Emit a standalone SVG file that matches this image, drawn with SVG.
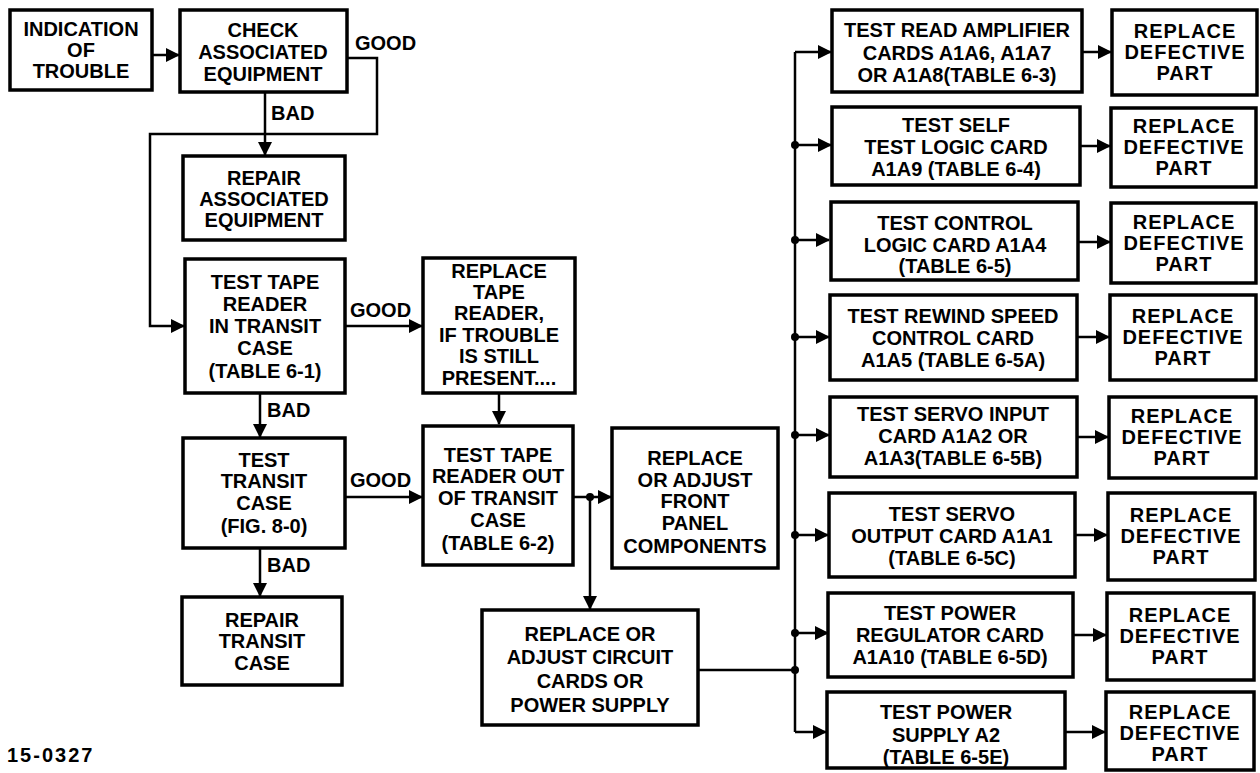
<svg xmlns="http://www.w3.org/2000/svg" width="1260" height="773" viewBox="0 0 1260 773">
<style>
.box{fill:#fff;stroke:#000;stroke-width:3.5}
.t{font-family:"Liberation Sans",Arial,sans-serif;font-weight:bold;font-size:20px;text-anchor:middle;fill:#000}
.lbl{font-family:"Liberation Sans",Arial,sans-serif;font-weight:bold;font-size:20px;fill:#000}
.c{fill:none;stroke:#000;stroke-width:2.5}
.a{marker-end:url(#ah)}
.dot{fill:#000}
</style>
<defs>
<marker id="ah" markerUnits="userSpaceOnUse" markerWidth="14" markerHeight="14" refX="13" refY="7" orient="auto">
<path d="M0,0 L14,7 L0,14 z" fill="#000"/>
</marker>
</defs>
<rect width="1260" height="773" fill="#fff"/>

<g id="connectors">
<path class="c a" d="M152,55 H179"/>
<path class="c a" d="M347,58 H377 V134 H150 V326 H184"/>
<path class="c a" d="M265,92 V155"/>
<path class="c a" d="M345,326 H422"/>
<path class="c a" d="M260,393 V437"/>
<path class="c a" d="M345,497 H422"/>
<path class="c a" d="M260,548 V596"/>
<path class="c a" d="M499,393 V424"/>
<path class="c a" d="M573,497 H611"/>
<path class="c a" d="M590,497 V609"/>
<circle class="dot" cx="590" cy="497" r="4"/>
<path class="c" d="M698,670 H795"/>
<circle class="dot" cx="795" cy="670" r="4"/>
<path class="c a" d="M795,52 H831"/>
<path class="c" d="M795,52 V732"/>
<path class="c a" d="M795,732 H826"/>
<path class="c a" d="M795,145 H831"/>
<path class="c a" d="M795,240 H829"/>
<path class="c a" d="M795,337 H829"/>
<path class="c a" d="M795,435 H829"/>
<path class="c a" d="M795,535 H828"/>
<path class="c a" d="M795,633 H828"/>
<circle class="dot" cx="795" cy="145" r="4"/>
<circle class="dot" cx="795" cy="240" r="4"/>
<circle class="dot" cx="795" cy="337" r="4"/>
<circle class="dot" cx="795" cy="435" r="4"/>
<circle class="dot" cx="795" cy="535" r="4"/>
<circle class="dot" cx="795" cy="633" r="4"/>
<path class="c a" d="M1082,52 H1111"/>
<path class="c a" d="M1080,146 H1110"/>
<path class="c a" d="M1078,242 H1110"/>
<path class="c a" d="M1077,337 H1109"/>
<path class="c a" d="M1077,437 H1108"/>
<path class="c a" d="M1075,535 H1107"/>
<path class="c a" d="M1073,635 H1106"/>
<path class="c a" d="M1065,732 H1105"/>
<text class="lbl" x="355" y="50">GOOD</text>
<text class="lbl" x="271" y="120">BAD</text>
<text class="lbl" x="350" y="317">GOOD</text>
<text class="lbl" x="267" y="417">BAD</text>
<text class="lbl" x="350" y="487">GOOD</text>
<text class="lbl" x="267" y="572">BAD</text>
</g>

<g id="n1"><rect class="box" x="10" y="10" width="142" height="80"/>
<text class="t"><tspan x="81" y="36">INDICATION</tspan><tspan x="81" y="57">OF</tspan><tspan x="81" y="78">TROUBLE</tspan></text></g>
<g id="n2"><rect class="box" x="180" y="10" width="167" height="82"/>
<text class="t"><tspan x="263" y="37">CHECK</tspan><tspan x="263" y="59">ASSOCIATED</tspan><tspan x="263" y="81">EQUIPMENT</tspan></text></g>
<g id="n3"><rect class="box" x="183" y="156" width="162" height="84"/>
<text class="t"><tspan x="264" y="185">REPAIR</tspan><tspan x="264" y="206">ASSOCIATED</tspan><tspan x="264" y="227">EQUIPMENT</tspan></text></g>
<g id="n4"><rect class="box" x="185" y="259" width="160" height="134"/>
<text class="t"><tspan x="265" y="289">TEST TAPE</tspan><tspan x="265" y="311">READER</tspan><tspan x="265" y="333">IN TRANSIT</tspan><tspan x="265" y="355">CASE</tspan><tspan x="265" y="378">(TABLE 6-1)</tspan></text></g>
<g id="n5"><rect class="box" x="183" y="438" width="162" height="110"/>
<text class="t"><tspan x="264" y="467">TEST</tspan><tspan x="264" y="488">TRANSIT</tspan><tspan x="264" y="510">CASE</tspan><tspan x="264" y="533">(FIG. 8-0)</tspan></text></g>
<g id="n6"><rect class="box" x="182" y="597" width="160" height="88"/>
<text class="t"><tspan x="262" y="627">REPAIR</tspan><tspan x="262" y="648">TRANSIT</tspan><tspan x="262" y="670">CASE</tspan></text></g>
<g id="n7"><rect class="box" x="423" y="258" width="152" height="135"/>
<text class="t"><tspan x="499" y="278">REPLACE</tspan><tspan x="499" y="299">TAPE</tspan><tspan x="499" y="320">READER,</tspan><tspan x="499" y="342">IF TROUBLE</tspan><tspan x="499" y="363">IS STILL</tspan><tspan x="499" y="385">PRESENT....</tspan></text></g>
<g id="n8"><rect class="box" x="423" y="426" width="150" height="139"/>
<text class="t"><tspan x="498" y="462">TEST TAPE</tspan><tspan x="498" y="483">READER OUT</tspan><tspan x="498" y="505">OF TRANSIT</tspan><tspan x="498" y="527">CASE</tspan><tspan x="498" y="550">(TABLE 6-2)</tspan></text></g>
<g id="n9"><rect class="box" x="612" y="428" width="166" height="140"/>
<text class="t"><tspan x="695" y="465">REPLACE</tspan><tspan x="695" y="487">OR ADJUST</tspan><tspan x="695" y="508">FRONT</tspan><tspan x="695" y="530">PANEL</tspan><tspan x="695" y="553">COMPONENTS</tspan></text></g>
<g id="n10"><rect class="box" x="482" y="610" width="216" height="115"/>
<text class="t"><tspan x="590" y="641">REPLACE OR</tspan><tspan x="590" y="664">ADJUST CIRCUIT</tspan><tspan x="590" y="688">CARDS OR</tspan><tspan x="590" y="712">POWER SUPPLY</tspan></text></g>

<g id="a1"><rect class="box" x="832" y="10" width="250" height="82"/>
<text class="t"><tspan x="957" y="37">TEST READ AMPLIFIER</tspan><tspan x="957" y="60">CARDS A1A6, A1A7</tspan><tspan x="957" y="82">OR A1A8(TABLE 6-3)</tspan></text></g>
<g id="a2"><rect class="box" x="832" y="107" width="248" height="78"/>
<text class="t"><tspan x="956" y="132">TEST SELF</tspan><tspan x="956" y="154">TEST LOGIC CARD</tspan><tspan x="956" y="176">A1A9 (TABLE 6-4)</tspan></text></g>
<g id="a3"><rect class="box" x="831" y="202" width="247" height="78"/>
<text class="t"><tspan x="955" y="230">TEST  CONTROL</tspan><tspan x="955" y="252">LOGIC CARD A1A4</tspan><tspan x="955" y="273">(TABLE 6-5)</tspan></text></g>
<g id="a4"><rect class="box" x="830" y="295" width="247" height="85"/>
<text class="t"><tspan x="953" y="323">TEST REWIND SPEED</tspan><tspan x="953" y="345">CONTROL CARD</tspan><tspan x="953" y="367">A1A5 (TABLE 6-5A)</tspan></text></g>
<g id="a5"><rect class="box" x="830" y="397" width="247" height="80"/>
<text class="t"><tspan x="953" y="421">TEST SERVO INPUT</tspan><tspan x="953" y="443">CARD A1A2 OR</tspan><tspan x="953" y="465">A1A3(TABLE 6-5B)</tspan></text></g>
<g id="a6"><rect class="box" x="829" y="493" width="246" height="84"/>
<text class="t"><tspan x="952" y="521">TEST SERVO</tspan><tspan x="952" y="543">OUTPUT CARD A1A1</tspan><tspan x="952" y="565">(TABLE 6-5C)</tspan></text></g>
<g id="a7"><rect class="box" x="828" y="593" width="245" height="84"/>
<text class="t"><tspan x="950" y="620">TEST POWER</tspan><tspan x="950" y="642">REGULATOR CARD</tspan><tspan x="950" y="664">A1A10 (TABLE 6-5D)</tspan></text></g>
<g id="a8"><rect class="box" x="827" y="692" width="238" height="76"/>
<text class="t"><tspan x="946" y="719">TEST POWER</tspan><tspan x="946" y="742">SUPPLY A2</tspan><tspan x="946" y="764">(TABLE 6-5E)</tspan></text></g>

<g id="b1"><rect class="box" x="1112" y="10" width="145" height="85"/>
<text class="t" letter-spacing="1"><tspan x="1185" y="38">REPLACE</tspan><tspan x="1185" y="59">DEFECTIVE</tspan><tspan x="1185" y="80">PART</tspan></text></g>
<g id="b2"><rect class="box" x="1111" y="108" width="145" height="79"/>
<text class="t" letter-spacing="1"><tspan x="1184" y="133">REPLACE</tspan><tspan x="1184" y="154">DEFECTIVE</tspan><tspan x="1184" y="175">PART</tspan></text></g>
<g id="b3"><rect class="box" x="1111" y="203" width="145" height="80"/>
<text class="t" letter-spacing="1"><tspan x="1184" y="229">REPLACE</tspan><tspan x="1184" y="250">DEFECTIVE</tspan><tspan x="1184" y="271">PART</tspan></text></g>
<g id="b4"><rect class="box" x="1110" y="295" width="146" height="85"/>
<text class="t" letter-spacing="1"><tspan x="1183" y="323">REPLACE</tspan><tspan x="1183" y="344">DEFECTIVE</tspan><tspan x="1183" y="365">PART</tspan></text></g>
<g id="b5"><rect class="box" x="1109" y="397" width="147" height="81"/>
<text class="t" letter-spacing="1"><tspan x="1182" y="423">REPLACE</tspan><tspan x="1182" y="444">DEFECTIVE</tspan><tspan x="1182" y="465">PART</tspan></text></g>
<g id="b6"><rect class="box" x="1108" y="493" width="147" height="87"/>
<text class="t" letter-spacing="1"><tspan x="1181" y="522">REPLACE</tspan><tspan x="1181" y="543">DEFECTIVE</tspan><tspan x="1181" y="564">PART</tspan></text></g>
<g id="b7"><rect class="box" x="1107" y="593" width="147" height="87"/>
<text class="t" letter-spacing="1"><tspan x="1180" y="622">REPLACE</tspan><tspan x="1180" y="643">DEFECTIVE</tspan><tspan x="1180" y="664">PART</tspan></text></g>
<g id="b8"><rect class="box" x="1106" y="692" width="148" height="78"/>
<text class="t" letter-spacing="1"><tspan x="1180" y="719">REPLACE</tspan><tspan x="1180" y="740">DEFECTIVE</tspan><tspan x="1180" y="761">PART</tspan></text></g>

<text class="lbl" x="7" y="762" font-size="19" letter-spacing="2">15-0327</text>
</svg>
